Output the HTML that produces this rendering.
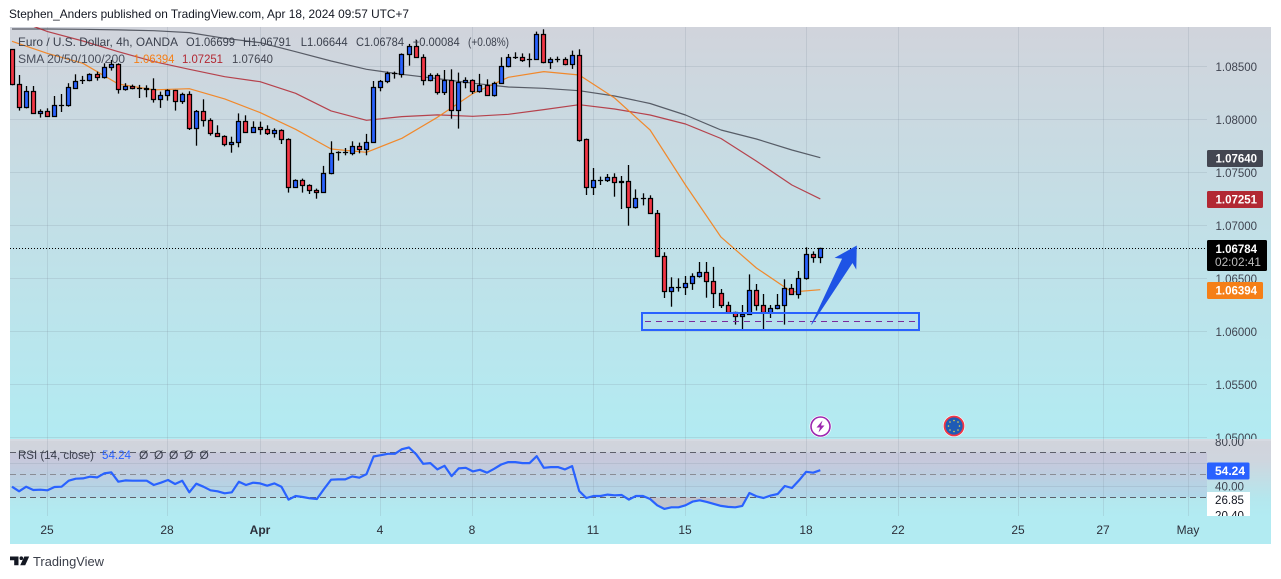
<!DOCTYPE html>
<html lang="en">
<head>
<meta charset="utf-8">
<title>EUR/USD 4h chart</title>
<style>
html,body{margin:0;padding:0;background:#fff;width:1281px;height:579px;overflow:hidden}
svg{display:block;font-family:"Liberation Sans",sans-serif}
</style>
</head>
<body>
<svg id="chart" width="1281" height="579" viewBox="0 0 1281 579">
  <defs>
    <linearGradient id="mainBg" x1="0" y1="0" x2="0" y2="1"><stop offset="0" stop-color="#d1d4dc"/><stop offset="1" stop-color="#b2ebf2"/></linearGradient>
    <linearGradient id="rsiBg" x1="0" y1="0" x2="0" y2="1"><stop offset="0" stop-color="#d1d4dc"/><stop offset="0.25" stop-color="#cfd5de"/><stop offset="0.78" stop-color="#b4e7ee"/><stop offset="1" stop-color="#b2ebf2"/></linearGradient>
    <clipPath id="mainClip"><rect x="10" y="27" width="1197" height="412"/></clipPath>
    <clipPath id="mainAxisClip"><rect x="1207" y="27" width="64" height="412"/></clipPath>
    <clipPath id="rsiClip"><rect x="10" y="440" width="1197" height="76"/></clipPath>
    <clipPath id="rsiLowClip"><rect x="10" y="497.3" width="1197" height="19"/></clipPath>
    <clipPath id="rsiAxisClip"><rect x="1207" y="439" width="64" height="77"/></clipPath>
  </defs>

  <text x="9" y="18" font-size="12" fill="#131722" textLength="400" lengthAdjust="spacingAndGlyphs">Stephen_Anders published on TradingView.com, Apr 18, 2024 09:57 UTC+7</text>

  <rect x="10" y="27" width="1261" height="412" fill="url(#mainBg)"/>
  <rect x="10" y="439" width="1261" height="2" fill="#d6dae2"/>
  <rect x="10" y="441" width="1261" height="75" fill="url(#rsiBg)"/>
  <rect x="10" y="516" width="1261" height="28" fill="#b2ebf2"/>
  <rect x="10" y="452.5" width="1197" height="44.8" fill="#7e57c2" fill-opacity="0.1"/>

  <g id="grid"></g>
  <g id="priceAxis" clip-path="url(#mainAxisClip)"></g>
  <g id="smaLayer" clip-path="url(#mainClip)"></g>
  <g id="candleLayer" clip-path="url(#mainClip)"></g>

  <line id="lastPriceLine" x1="10" x2="1207" stroke="#000" stroke-width="1" stroke-dasharray="1 2"/>

  <g>
    <rect x="642" y="313" width="277" height="17" fill="#2962ff" fill-opacity="0.04" stroke="#2962ff" stroke-width="2"/>
    <line x1="645" x2="917" y1="321.5" y2="321.5" stroke="#7b2a9c" stroke-width="1" stroke-dasharray="6 5"/>
  </g>
  <polygon points="811.5,324.5 842.5,258.5 835.5,257.7 856.5,246 856,268.5 852.5,262.5" fill="#1e53e5" stroke="#1e53e5" stroke-width="0.6"/>

  <g>
    <circle cx="820.5" cy="426.5" r="11" fill="#fff"/>
    <circle cx="820.5" cy="426.5" r="9.5" fill="#fff" stroke="#9c27b0" stroke-width="1.6"/>
    <polygon points="822.5,420.5 816.5,427.5 820,427.5 818.5,432.5 824.5,425.5 821,425.5" fill="#9c27b0"/>
  </g>
  <g>
    <circle cx="954" cy="426" r="11" fill="#fff"/>
    <circle cx="954" cy="426" r="9.5" fill="#1e5bb5" stroke="#f23645" stroke-width="1.8"/>
    <g fill="#e8d44a">
      <circle cx="954" cy="420.5" r="0.8"/><circle cx="958" cy="422" r="0.8"/><circle cx="959.5" cy="426" r="0.8"/><circle cx="958" cy="430" r="0.8"/>
      <circle cx="954" cy="431.5" r="0.8"/><circle cx="950" cy="430" r="0.8"/><circle cx="948.5" cy="426" r="0.8"/><circle cx="950" cy="422" r="0.8"/>
    </g>
  </g>

  <g font-size="12">
    <text x="18" y="46" fill="#3b404d" textLength="160" lengthAdjust="spacingAndGlyphs">Euro / U.S. Dollar, 4h, OANDA</text>
    <text x="186" y="46" fill="#3b404d" textLength="49" lengthAdjust="spacingAndGlyphs">O1.06699</text>
    <text x="243" y="46" fill="#3b404d" textLength="48" lengthAdjust="spacingAndGlyphs">H1.06791</text>
    <text x="300.7" y="46" fill="#3b404d" textLength="47" lengthAdjust="spacingAndGlyphs">L1.06644</text>
    <text x="356" y="46" fill="#3b404d" textLength="48" lengthAdjust="spacingAndGlyphs">C1.06784</text>
    <text x="412.7" y="46" fill="#3b404d" textLength="47" lengthAdjust="spacingAndGlyphs">+0.00084</text>
    <text x="468" y="46" fill="#3b404d" textLength="41" lengthAdjust="spacingAndGlyphs">(+0.08%)</text>
    <text x="18" y="63" fill="#4a4f5c" textLength="107" lengthAdjust="spacingAndGlyphs">SMA 20/50/100/200</text>
    <text x="133.5" y="63" fill="#f57f17" textLength="41" lengthAdjust="spacingAndGlyphs">1.06394</text>
    <text x="182" y="63" fill="#b22833" textLength="41" lengthAdjust="spacingAndGlyphs">1.07251</text>
    <text x="232" y="63" fill="#434651" textLength="41" lengthAdjust="spacingAndGlyphs">1.07640</text>
  </g>

  <g id="rsiLines" clip-path="url(#rsiClip)"></g>
  <path id="rsiFill" clip-path="url(#rsiLowClip)" fill="#f23645" fill-opacity="0.2" stroke="none"/>
  <path id="rsiPath" clip-path="url(#rsiClip)" fill="none" stroke="#2962ff" stroke-width="2.2" stroke-linejoin="round"/>

  <g font-size="12">
    <text x="18" y="459" fill="#3b404d" textLength="76" lengthAdjust="spacingAndGlyphs">RSI (14, close)</text>
    <text x="102" y="459" fill="#2962ff" textLength="29" lengthAdjust="spacingAndGlyphs">54.24</text>
    <text x="139" y="459" fill="#3b404d">Ø</text>
    <text x="154" y="459" fill="#3b404d">Ø</text>
    <text x="169" y="459" fill="#3b404d">Ø</text>
    <text x="184" y="459" fill="#3b404d">Ø</text>
    <text x="199.5" y="459" fill="#3b404d">Ø</text>
  </g>

  <g id="rsiAxis" clip-path="url(#rsiAxisClip)"></g>
  <g id="timeAxis"></g>

  <g font-size="12" font-weight="bold">
    <rect x="1207" y="150" width="56" height="17" rx="1.5" fill="#434651"/>
    <text x="1215.5" y="162.5" fill="#fff" textLength="41.5" lengthAdjust="spacingAndGlyphs">1.07640</text>
    <rect x="1207" y="191" width="56" height="17" rx="1.5" fill="#b22833"/>
    <text x="1215.5" y="203.5" fill="#fff" textLength="41.5" lengthAdjust="spacingAndGlyphs">1.07251</text>
    <rect x="1207" y="240" width="60" height="31" rx="1.5" fill="#000"/>
    <text x="1215.5" y="253" fill="#fff" textLength="41.5" lengthAdjust="spacingAndGlyphs">1.06784</text>
    <text x="1215" y="266" fill="#bdbdbd" font-weight="normal" textLength="46" lengthAdjust="spacingAndGlyphs">02:02:41</text>
    <rect x="1207" y="282" width="56" height="17" rx="1.5" fill="#f57f17"/>
    <text x="1215.5" y="294.5" fill="#fff" textLength="41.5" lengthAdjust="spacingAndGlyphs">1.06394</text>
    <rect x="1207" y="462.5" width="42.5" height="17" rx="1.5" fill="#2962ff"/>
    <text x="1215" y="475" fill="#fff" textLength="30" lengthAdjust="spacingAndGlyphs">54.24</text>
  </g>

  <g clip-path="url(#rsiAxisClip)" font-size="12">
    <rect x="1207" y="492" width="43" height="24" fill="#fff"/>
    <text x="1215" y="504" fill="#131722" textLength="29" lengthAdjust="spacingAndGlyphs">26.85</text>
    <text x="1215" y="519.5" fill="#131722" textLength="29" lengthAdjust="spacingAndGlyphs">20.40</text>
  </g>

  <g>
    <path d="M10 556.5h8.5v8.8h-4.3v-5h-4.2z" fill="#131722"/>
    <circle cx="21.3" cy="558.2" r="1.8" fill="#131722"/>
    <path d="M24.3 556.5h4.9l-4 8.8h-5z" fill="#131722"/>
    <text x="33" y="566" font-size="13" fill="#3b3f4a" textLength="71" lengthAdjust="spacingAndGlyphs">TradingView</text>
  </g>
</svg>

<script>
const opens = [1.08656,1.08332,1.08112,1.08266,1.08055,1.08077,1.08027,1.08130,1.08128,1.08297,
1.08367,1.08367,1.08423,1.08395,1.08489,1.08518,1.08285,1.08313,1.08294,1.08294,
1.08285,1.08191,1.08228,1.08275,1.08169,1.08238,1.07917,1.08077,1.07989,1.07870,
1.07842,1.07766,1.07785,1.07983,1.07879,1.07926,1.07908,1.07870,1.07895,1.07813,
1.07357,1.07423,1.07373,1.07329,1.07313,1.07489,1.07684,1.07687,1.07678,1.07747,
1.07719,1.07785,1.08301,1.08357,1.08430,1.08426,1.08615,1.08691,1.08587,1.08370,
1.08417,1.08257,1.08370,1.08087,1.08348,1.08370,1.08266,1.08323,1.08225,1.08342,
1.08502,1.08584,1.08587,1.08565,1.08568,1.08804,1.08540,1.08562,1.08568,1.08521,
1.08606,1.07807,1.07360,1.07423,1.07423,1.07454,1.07417,1.07417,1.07168,1.07253,
1.07256,1.07115,1.06706,1.06376,1.06414,1.06414,1.06451,1.06517,1.06558,1.06470,
1.06360,1.06247,1.06181,1.06143,1.06162,1.06388,1.06247,1.06178,1.06216,1.06244,
1.06407,1.06351,1.06502,1.06728,1.06699];
const highs = [1.08662,1.08420,1.08316,1.08316,1.08096,1.08106,1.08222,1.08241,1.08342,1.08426,
1.08411,1.08436,1.08452,1.08530,1.08562,1.08530,1.08342,1.08329,1.08326,1.08323,
1.08389,1.08263,1.08285,1.08279,1.08253,1.08266,1.08090,1.08191,1.08011,1.07945,
1.07851,1.07838,1.08058,1.08040,1.07983,1.07980,1.07945,1.07917,1.07908,1.07823,
1.07436,1.07442,1.07389,1.07348,1.07562,1.07794,1.07700,1.07731,1.07794,1.07782,
1.07864,1.08363,1.08373,1.08452,1.08452,1.08624,1.08713,1.08750,1.08615,1.08436,
1.08436,1.08467,1.08474,1.08442,1.08398,1.08379,1.08430,1.08379,1.08357,1.08587,
1.08618,1.08634,1.08624,1.08624,1.08829,1.08851,1.08587,1.08593,1.08587,1.08650,
1.08662,1.07820,1.07542,1.07461,1.07486,1.07492,1.07467,1.07571,1.07341,1.07304,
1.07285,1.07146,1.06747,1.06511,1.06502,1.06524,1.06549,1.06656,1.06656,1.06609,
1.06401,1.06281,1.06187,1.06250,1.06539,1.06448,1.06354,1.06250,1.06354,1.06492,
1.06448,1.06571,1.06794,1.06756,1.06791];
const lows = [1.08323,1.08084,1.08105,1.08052,1.08018,1.08025,1.08025,1.08071,1.08121,1.08288,
1.08335,1.08360,1.08367,1.08386,1.08461,1.08244,1.08272,1.08285,1.08203,1.08209,
1.08159,1.08109,1.08178,1.08084,1.08147,1.07901,1.07753,1.07933,1.07848,1.07838,
1.07747,1.07687,1.07738,1.07876,1.07873,1.07857,1.07854,1.07829,1.07769,1.07310,
1.07354,1.07310,1.07297,1.07253,1.07310,1.07483,1.07612,1.07662,1.07662,1.07681,
1.07662,1.07782,1.08266,1.08342,1.08386,1.08395,1.08508,1.08584,1.08323,1.08360,
1.08235,1.08231,1.08008,1.07914,1.08294,1.08241,1.08253,1.08222,1.08216,1.08338,
1.08492,1.08571,1.08543,1.08492,1.08562,1.08530,1.08477,1.08540,1.08511,1.08477,
1.07791,1.07288,1.07288,1.07382,1.07410,1.07272,1.07156,1.06998,1.07159,1.07190,
1.07112,1.06703,1.06316,1.06234,1.06376,1.06344,1.06392,1.06508,1.06319,1.06222,
1.06222,1.06175,1.06065,1.06024,1.06159,1.06197,1.06020,1.06127,1.06209,1.06065,
1.06344,1.06310,1.06489,1.06649,1.06644];
const closes = [1.08332,1.08112,1.08266,1.08058,1.08077,1.08027,1.08134,1.08134,1.08304,1.08360,
1.08370,1.08423,1.08398,1.08492,1.08518,1.08285,1.08313,1.08294,1.08297,1.08285,
1.08191,1.08228,1.08275,1.08172,1.08238,1.07914,1.08077,1.07992,1.07864,1.07842,
1.07763,1.07785,1.07983,1.07879,1.07926,1.07908,1.07867,1.07895,1.07813,1.07360,
1.07423,1.07373,1.07329,1.07310,1.07492,1.07681,1.07687,1.07691,1.07747,1.07719,
1.07785,1.08304,1.08360,1.08430,1.08433,1.08615,1.08691,1.08587,1.08370,1.08417,
1.08257,1.08370,1.08087,1.08351,1.08370,1.08266,1.08323,1.08228,1.08342,1.08502,
1.08587,1.08587,1.08558,1.08568,1.08804,1.08536,1.08568,1.08565,1.08521,1.08606,
1.07804,1.07360,1.07426,1.07426,1.07454,1.07407,1.07404,1.07168,1.07256,1.07256,
1.07115,1.06706,1.06376,1.06414,1.06417,1.06454,1.06520,1.06558,1.06470,1.06360,
1.06247,1.06178,1.06143,1.06162,1.06388,1.06247,1.06181,1.06219,1.06247,1.06407,
1.06351,1.06502,1.06728,1.06697,1.06784];
const smaBars = [1,6,11,16,21,26,31,36,41,46,51,56,61,66,71,76,81,86,91,96,101,106,111,115];
const sma20 = [1.08738,1.08624,1.08530,1.08335,1.08279,1.08291,1.08194,1.08065,1.07908,1.07722,1.07691,1.07823,1.08021,1.08244,1.08398,1.08452,1.08420,1.08203,1.07901,1.07382,1.06891,1.06599,1.06373,1.06394];
const sma50 = [1.08955,1.08829,1.08741,1.08640,1.08546,1.08474,1.08404,1.08357,1.08247,1.08081,1.07992,1.08027,1.08043,1.08030,1.08049,1.08093,1.08140,1.08099,1.08042,1.07958,1.07821,1.07608,1.07382,1.07251];
const sma200 = [1.08854,1.08854,1.08851,1.08845,1.08838,1.08820,1.08766,1.08725,1.08640,1.08552,1.08474,1.08426,1.08386,1.08342,1.08307,1.08294,1.08272,1.08222,1.08151,1.08042,1.07901,1.07816,1.07712,1.07640];
const rsiValues = [39.48,35.33,39.48,36.52,36.81,36.22,39.18,39.48,44.81,46.59,
46.89,48.37,47.78,51.33,52.22,43.92,45.11,44.81,44.81,44.81,
40.96,43.03,45.41,41.85,44.81,34.44,42.15,39.48,36.22,35.33,
33.55,34.44,43.92,40.96,43.03,42.44,40.37,42.44,39.48,27.92,
31.18,30.29,29.11,28.52,37.41,45.70,46.00,46.00,48.66,47.48,
50.74,66.44,67.63,68.81,68.81,72.96,74.44,68.52,59.92,60.52,
54.89,58.15,48.96,55.78,56.37,53.11,54.59,51.92,55.48,59.33,
61.41,61.41,60.52,60.52,66.74,56.37,56.96,56.96,54.89,57.85,
35.63,29.41,31.18,31.18,32.37,31.78,32.07,27.92,31.18,31.18,
28.52,22.89,19.63,21.11,21.11,22.89,26.15,27.33,25.85,24.07,
22.29,21.41,21.11,22.29,33.85,30.89,29.41,31.48,32.96,40.07,
38.29,45.11,52.81,51.92,54.24];
const priceTicks = [1.085,1.08,1.075,1.07,1.065,1.06,1.055,1.05];
const rsiLevels = [70,50,30];
const rsiTicks = [80,40];
const timeTickBars = [6,23,36,53,66,83,96,113,126,143,155,167];
const timeTickLabels = ['25','28','Apr','4','8','11','15','18','22','25','27','May'];
const lastPrice = 1.06784;

const NS = 'http://www.w3.org/2000/svg';
function xScale(bar) { return 12 + (bar - 1) * 7.09; }
function yPrice(p) { return 66.5 + (1.085 - p) * 10600; }
function yRsi(v) { return 497.3 - (v - 30) * 1.12; }
function crisp(v) { return Math.floor(v) + 0.5; }
function mk(parent, tag, attrs, text) {
  const node = document.createElementNS(NS, tag);
  for (const k in attrs) node.setAttribute(k, attrs[k]);
  if (text !== undefined) node.textContent = text;
  parent.appendChild(node);
  return node;
}
const gridG = document.getElementById('grid');
const axisG = document.getElementById('priceAxis');
const smaG = document.getElementById('smaLayer');
const candleG = document.getElementById('candleLayer');
const rsiLinesG = document.getElementById('rsiLines');
const rsiAxisG = document.getElementById('rsiAxis');
const timeG = document.getElementById('timeAxis');

priceTicks.forEach(function (p) {
  const y = crisp(yPrice(p));
  const gl = mk(gridG, 'line', {x1: 10, x2: 1207, y1: y, y2: y, stroke: '#7f8c99', 'stroke-opacity': 0.2});
  
  
  const t = mk(axisG, 'text', {x: 1215.5, y: yPrice(p) + 4.5, 'font-size': 12, fill: '#3f4450', textLength: 41.5, lengthAdjust: 'spacingAndGlyphs'}, p.toFixed(5));
  
  
});
[0, 1].forEach(function (n) {
  const y = n === 0 ? 486.5 : 463.5;
  const gl = mk(gridG, 'line', {x1: 10, x2: 1207, y1: y, y2: y, stroke: '#7f8c99', 'stroke-opacity': 0.2});
  
  
});
timeTickBars.forEach(function (b, i) {
  const x = crisp(xScale(b));
  const vl = mk(gridG, 'line', {x1: x, x2: x, y1: 27, y2: 516, stroke: '#7f8c99', 'stroke-opacity': 0.2});
  
  
  const isMonth = timeTickLabels[i] === 'Apr' || timeTickLabels[i] === 'May';
  const t = mk(timeG, 'text', {x: x - 0.5, y: 534, 'font-size': 12, fill: '#2b2f3a', 'text-anchor': 'middle', 'font-weight': timeTickLabels[i] === 'Apr' ? 'bold' : 'normal'}, timeTickLabels[i]);
  
  
});

function smaPath(values) {
  return values.map(function (v, i) {
    return (i ? 'L' : 'M') + xScale(smaBars[i]).toFixed(1) + ' ' + yPrice(v).toFixed(1);
  }).join(' ');
}
const sma200Line = mk(smaG, 'path', {d: smaPath(sma200), fill: 'none', stroke: '#434651', 'stroke-width': 1.2, 'stroke-opacity': 0.85, 'stroke-linejoin': 'round'});


const sma50Line = mk(smaG, 'path', {d: smaPath(sma50), fill: 'none', stroke: '#b22833', 'stroke-width': 1.2, 'stroke-opacity': 0.85, 'stroke-linejoin': 'round'});


const sma20Line = mk(smaG, 'path', {d: smaPath(sma20), fill: 'none', stroke: '#f57f17', 'stroke-width': 1.2, 'stroke-opacity': 0.9, 'stroke-linejoin': 'round'});



closes.forEach(function (c, i) {
  const o = opens[i];
  const cx = crisp(xScale(i + 1));
  const up = c >= o;
  const group = mk(candleG, 'g', {});
  
  
  const wick = mk(group, 'line', {x1: cx, x2: cx, y1: yPrice(highs[i]).toFixed(1), y2: yPrice(lows[i]).toFixed(1), stroke: '#000', 'stroke-width': 1.3});
  
  
  const top = crisp(yPrice(Math.max(o, c)));
  const bot = crisp(yPrice(Math.min(o, c)));
  const body = mk(group, 'rect', {x: cx - 2, y: top, width: 4, height: Math.max(bot - top, 0.01), fill: up ? '#2962ff' : '#f23645', stroke: '#000', 'stroke-width': 1.25});
  
  
});

const lastLine = document.getElementById('lastPriceLine');
lastLine.setAttribute('y1', crisp(yPrice(lastPrice)));
lastLine.setAttribute('y2', crisp(yPrice(lastPrice)));

rsiLevels.forEach(function (lv) {
  const y = crisp(yRsi(lv));
  const ln = mk(rsiLinesG, 'line', {x1: 10, x2: 1207, y1: y, y2: y, stroke: lv === 50 ? '#8a8d96' : '#5d606b', 'stroke-dasharray': '6 4', 'stroke-width': 1});
  
  
});
rsiTicks.forEach(function (v) {
  const t = mk(rsiAxisG, 'text', {x: 1215, y: yRsi(v) + 4.5, 'font-size': 12, fill: '#3f4450', textLength: 29, lengthAdjust: 'spacingAndGlyphs'}, v.toFixed(2));
  
  
});
const rsiD = rsiValues.map(function (v, i) {
  return (i ? 'L' : 'M') + xScale(i + 1).toFixed(1) + ' ' + yRsi(v).toFixed(1);
}).join(' ');
document.getElementById('rsiPath').setAttribute('d', rsiD);
document.getElementById('rsiFill').setAttribute('d', rsiD + ' L' + xScale(rsiValues.length).toFixed(1) + ' ' + yRsi(30) + ' L' + xScale(1) + ' ' + yRsi(30) + ' Z');
</script>
</body>
</html>
